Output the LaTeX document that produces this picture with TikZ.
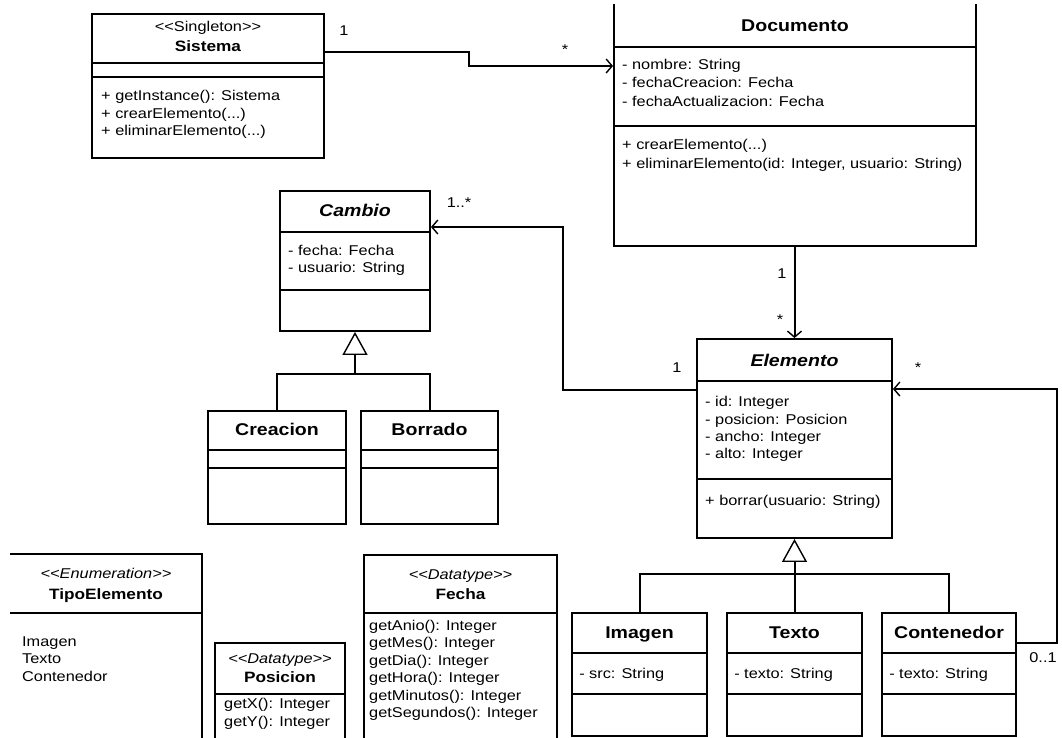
\documentclass[tikz,border=0pt]{standalone}
\usepackage{fontspec}
\setmainfont{Liberation Sans}[FakeStretch=1.15]
\usetikzlibrary{arrows.meta, positioning, fit}

\newcommand{\stereo}[1]{<\kern0pt<#1>\kern0pt>}
\newcommand{\etc}{...}

\tikzset{
  classbox/.style={draw, line width=1.9pt, inner sep=0pt},
  sepline/.style={line width=1.1pt},
  link/.style={line width=2pt},
  assoc/.style={link, -{Straight Barb[length=6pt, width=14pt, line width=1.4pt]}},
  inherit/.style={link, -{Triangle[open, length=23pt, width=25pt, line width=1.4pt]}},
  member/.style={font=\fontsize{14.2}{17}\selectfont, inner sep=0pt, text height=10pt, text depth=3pt, anchor=west},
  sttext/.style={font=\fontsize{14.2}{17}\selectfont, inner sep=0pt, text height=10pt, text depth=3pt},
  bigname/.style={font=\fontsize{17}{20}\selectfont\bfseries, inner sep=0pt, text height=12pt, text depth=3pt},
  smallname/.style={font=\fontsize{15}{18}\selectfont\bfseries, inner sep=0pt, text height=11pt, text depth=3pt},
  mult/.style={font=\fontsize{14.2}{17}\selectfont, inner sep=0pt},
}

\begin{document}
\begin{tikzpicture}[x=1pt, y=-1pt]
\useasboundingbox (0,0) rectangle (1062,738);
\clip (10,5) rectangle (1062,738);

% -------------------------------------------------------
% 1. Sistema and Documento
% -------------------------------------------------------
\node[classbox, fit={(92,14) (324,158)}] (sistema) {};
\draw[sepline] (sistema.west |- 0,63) -- (sistema.east |- 0,63);
\draw[sepline] (sistema.west |- 0,77) -- (sistema.east |- 0,77);
\node[sttext] (sistema-st) at (208,28) {\stereo{Singleton}};
\node[smallname] (sistema-t) at (208,48) {Sistema};
\foreach \m [count=\i] in {+ getInstance(): Sistema, + crearElemento(\etc), + eliminarElemento(\etc)}
  \node[member] (sistema-m\i) at (101,80+17.3*\i) {\m};

% top edge lies outside the page
\node[classbox, fit={(614,-20) (976,246)}] (documento) {};
\draw[sepline] (documento.west |- 0,47) -- (documento.east |- 0,47);
\draw[sepline] (documento.west |- 0,126) -- (documento.east |- 0,126);
\node[bigname] (documento-t) at (795,27) {Documento};
\foreach \m [count=\i] in {- nombre: String, - fechaCreacion: Fecha, - fechaActualizacion: Fecha}
  \node[member] (documento-a\i) at (622,47.5+18.5*\i) {\m};
\foreach \m [count=\i] in {+ crearElemento(\etc), {+ eliminarElemento(id: Integer, usuario: String)}}
  \node[member] (documento-m\i) at (622,127.5+18.5*\i) {\m};

% -------------------------------------------------------
% 2. Cambio and its subclasses
% -------------------------------------------------------
\node[classbox, fit={(280,191) (430,331)}] (cambio) {};
\draw[sepline] (cambio.west |- 0,232) -- (cambio.east |- 0,232);
\draw[sepline] (cambio.west |- 0,290) -- (cambio.east |- 0,290);
\node[bigname, font=\fontsize{17}{20}\selectfont\bfseries\itshape] (cambio-t) at (355,212) {Cambio};
\foreach \m [count=\i] in {- fecha: Fecha, - usuario: String}
  \node[member] (cambio-a\i) at (288,235+17*\i) {\m};

\node[classbox, fit={(208,411) (346,524)}] (creacion) {};
\node[classbox, fit={(361,411) (498,524)}] (borrado) {};
\foreach \c in {creacion, borrado} {
  \draw[sepline] (\c.west |- 0,450) -- (\c.east |- 0,450);
  \draw[sepline] (\c.west |- 0,468) -- (\c.east |- 0,468);
}
\node[bigname] (creacion-t) at (277,431) {Creacion};
\node[bigname] (borrado-t) at (429.5,431) {Borrado};

% -------------------------------------------------------
% 3. Elemento and its subclasses
% -------------------------------------------------------
\node[classbox, fit={(697,339) (892,538)}] (elemento) {};
\draw[sepline] (elemento.west |- 0,381) -- (elemento.east |- 0,381);
\draw[sepline] (elemento.west |- 0,479) -- (elemento.east |- 0,479);
\node[bigname, font=\fontsize{17}{20}\selectfont\bfseries\itshape] (elemento-t) at (794.5,362) {Elemento};
\foreach \m [count=\i] in {- id: Integer, - posicion: Posicion, - ancho: Integer, - alto: Integer}
  \node[member] (elemento-a\i) at (705,386+17.3*\i) {\m};
\node[member] (elemento-m1) at (705,502) {+ borrar(usuario: String)};

\node[classbox, fit={(572,613) (707,736)}] (imagen) {};
\node[classbox, fit={(727,613) (862,736)}] (texto) {};
\node[classbox, fit={(882,613) (1016,736)}] (contenedor) {};
\foreach \c/\n/\a in {imagen/Imagen/src, texto/Texto/texto, contenedor/Contenedor/texto} {
  \draw[sepline] (\c.west |- 0,653) -- (\c.east |- 0,653);
  \draw[sepline] (\c.west |- 0,694) -- (\c.east |- 0,694);
  \node[bigname] (\c-t) at (\c.center |- 0,634) {\n};
  \node[member] (\c-a1) at ([xshift=8pt]\c.west |- 0,675) {- \a: String};
}

% -------------------------------------------------------
% 4. Enumeration and datatypes (cut off at the bottom)
% -------------------------------------------------------
\node[classbox, fit={(0,554) (202,760)}] (tipo) {};
\draw[sepline] (tipo.west |- 0,613) -- (tipo.east |- 0,613);
\node[sttext, font=\fontsize{14.2}{17}\selectfont\itshape] (tipo-st) at (106,575) {\stereo{Enumeration}};
\node[smallname] (tipo-t) at (106,595) {TipoElemento};
\foreach \m [count=\i] in {Imagen, Texto, Contenedor}
  \node[member] (tipo-v\i) at (22,625+17.5*\i) {\m};

\node[classbox, fit={(215,643) (345,760)}] (posicion) {};
\draw[sepline] (posicion.west |- 0,694) -- (posicion.east |- 0,694);
\node[sttext, font=\fontsize{14.2}{17}\selectfont\itshape] (posicion-st) at (280,660) {\stereo{Datatype}};
\node[smallname] (posicion-t) at (280,678) {Posicion};
\foreach \m [count=\i] in {getX(): Integer, getY(): Integer}
  \node[member] (posicion-m\i) at (224,687+18*\i) {\m};

\node[classbox, fit={(364,555) (557,760)}] (fecha) {};
\draw[sepline] (fecha.west |- 0,613) -- (fecha.east |- 0,613);
\node[sttext, font=\fontsize{14.2}{17}\selectfont\itshape] (fecha-st) at (460.5,576) {\stereo{Datatype}};
\node[smallname] (fecha-t) at (460.5,595) {Fecha};
\foreach \m [count=\i] in {getAnio(): Integer, getMes(): Integer, getDia(): Integer, getHora(): Integer, getMinutos(): Integer, getSegundos(): Integer}
  \node[member] (fecha-m\i) at (369,609.5+17.4*\i) {\m};

% -------------------------------------------------------
% 5. Associations and generalizations
% -------------------------------------------------------
\draw[assoc] (sistema.east |- 0,52) -- (469,52) |- (documento.west |- 0,66);
\draw[assoc] (elemento.north |- documento.south) -- (elemento.north);
\draw[assoc] (elemento.west |- 0,390) -- (563,390) -- (563,227) -- (cambio.east |- 0,227);
\draw[assoc] (contenedor.east |- 0,643) -- (1057,643) -- (1057,389) -- (elemento.east |- 0,389);

\draw[inherit] (creacion.north) |- (cambio.south |- 0,374) -- (cambio.south);
\draw[link] (borrado.north) |- (cambio.south |- 0,374);
\draw[inherit] (texto.north) -- (elemento.south);
\draw[link] (imagen.north) |- (texto.north |- 0,574) -| (contenedor.north);

% multiplicities
\node[mult] (m-sistema) at (344,31) {1};
\node[mult] (m-documento) at (565,50) {*};
\node[mult] (m-doc-down) at (782,274) {1};
\node[mult] (m-elem-up) at (780,320) {*};
\node[mult] (m-cambio) at (459,203) {1..*};
\node[mult] (m-elem-left) at (677,368) {1};
\node[mult] (m-elem-right) at (918,368) {*};
\node[mult] (m-contenedor) at (1043,658) {0..1};

\end{tikzpicture}
\end{document}
